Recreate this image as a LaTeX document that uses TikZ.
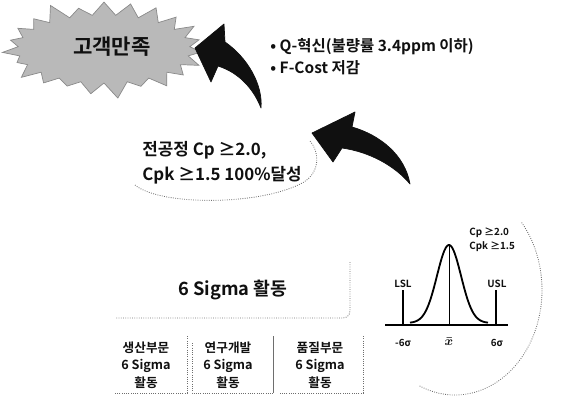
\documentclass[tikz,border=0pt]{standalone}
\usepackage{fontspec}
\setmainfont{Noto Sans CJK KR}[BoldFont={Noto Sans CJK KR Bold}]
\usetikzlibrary{shapes.symbols}
\definecolor{scanInk}{HTML}{101010}
\definecolor{scanGray}{HTML}{8A8A8A}
\definecolor{scanLine}{HTML}{6E6E6E}

\begin{document}
\begin{tikzpicture}[
    x=0.025cm, y=-0.025cm,
    line width=0.5pt,
    every node/.style={font=\bfseries, text=scanInk, inner sep=0pt},
    bigarrow/.style={fill=scanInk, draw=scanInk, line join=round},
    edgeline/.style={draw=scanLine, densely dotted, line width=0.6pt},
    subtext/.style={font=\bfseries\fontsize{9}{12.5}\selectfont, align=center},
    curvelabel/.style={font=\bfseries\fontsize{7}{8}\selectfont},
  ]
  \useasboundingbox (0,0) rectangle (561,408);

  % Goal: the burst at the top left
  \node[starburst, starburst points=23, starburst point height=0.45cm,
        minimum width=5.2cm, minimum height=2.6cm,
        fill=scanGray!60, draw=scanGray]
        (goalburst) at (104,49) {};
  \node[font=\bfseries\fontsize{15}{15}\selectfont] (goal) at (112,47) {고객만족};

  % Results of the activity
  \node[anchor=west, font=\bfseries\fontsize{11}{13}\selectfont] (qline) at (270,47)
    {• Q-혁신(불량률 3.4ppm 이하)};
  \node[anchor=west, font=\bfseries\fontsize{11}{13}\selectfont] (fline) at (270,68)
    {• F-Cost 저감};

  % Upper curved arrow, pointing at the burst
  \fill[bigarrow] (195,48) -- (224,24) -- (225,42)
    .. controls (248,58) and (263,85) .. (261,108)
    .. controls (254,90) and (240,73) .. (218,66)
    -- (211,82) -- cycle;

  % Target ellipse with its statement
  \draw[scanLine, densely dotted, line width=0.6pt]
    (135,185) .. controls (160,206) and (262,206) .. (304,182)
    .. controls (321,171) and (319,151) .. (310,141);
  \node[anchor=west, align=left, font=\bfseries\fontsize{12}{18}\selectfont] (target) at (142,163)
    {전공정 Cp ≥2.0,\\Cpk ≥1.5 100\%달성};

  % Lower curved arrow, pointing at the ellipse
  \fill[bigarrow] (312,133) -- (355,112) -- (352,127)
    .. controls (380,135) and (405,155) .. (410,184)
    .. controls (395,166) and (370,152) .. (342,148)
    -- (333,162) -- cycle;

  % The 6 Sigma activity box
  \draw[edgeline, rounded corners=5pt] (350,262) -- (350,318) -- (115,318);
  \node[font=\bfseries\fontsize{13}{13}\selectfont] (mainbox) at (233,290) {6 Sigma 활동};

  % Activities of the three divisions
  \draw[edgeline] (187,336) -- (187,393) -- (115,393);
  \draw[edgeline] (192,343) -- (192,393) -- (273,393);
  \draw[scanLine, line width=0.7pt] (273,336) -- (273,393);
  \draw[edgeline] (363,336) -- (363,393) -- (280,393);
  \node[subtext] (subprod) at (146,365) {생산부문\\6 Sigma\\활동};
  \node[subtext] (subrnd) at (228,365) {연구개발\\6 Sigma\\활동};
  \node[subtext] (subqual) at (320,365) {품질부문\\6 Sigma\\활동};

  % Process capability: ellipse arc, normal curve and limits
  \draw[scanLine, densely dotted, line width=0.6pt]
    (455,290) ++(-40:87 and 105) arc[start angle=-40, end angle=114, x radius=87, y radius=105];
  \draw[line width=0.9pt] (385,325) -- (508,325);
  \draw[line width=1.3pt] plot[smooth, domain=410:488, samples=60]
    (\x, {323-78*exp(-((\x-449)/12)^2/2)});
  \draw[line width=0.5pt] (449,245) -- (449,325);
  \draw[line width=0.8pt] (403,290) -- (403,325);
  \draw[line width=0.8pt] (496,290) -- (496,325);
  \node[curvelabel] (lsl) at (403,284) {LSL};
  \node[curvelabel] (usl) at (497,284) {USL};
  \node[curvelabel] (lowsig) at (403,343) {-6σ};
  \node[curvelabel, font=\fontsize{9}{9}\selectfont\boldmath] (mean) at (449,342) {$\bar{x}$};
  \node[curvelabel] (upsig) at (497,343) {6σ};
  \node[curvelabel, anchor=west, align=left] (capab) at (469,240) {Cp ≥2.0\\[2pt]Cpk ≥1.5};
\end{tikzpicture}
\end{document}
